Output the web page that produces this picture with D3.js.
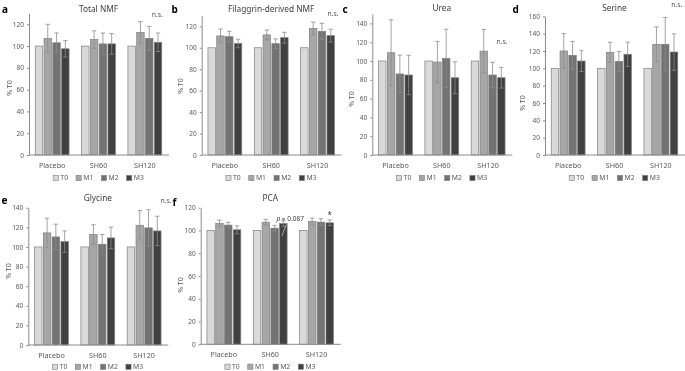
<!DOCTYPE html>
<html><head><meta charset="utf-8">
<script src="https://cdn.jsdelivr.net/npm/d3@7"></script>
<style>body{margin:0;background:#fff} svg{display:block;will-change:transform} text{font-family:"Noto Sans",sans-serif}</style>
</head><body><svg id="c" width="685" height="371"></svg>
<script>
const groups = ["Placebo","SH60","SH120"];
const series = ["T0","M1","M2","M3"];
const titles = ["Total NMF","Filaggrin-derived NMF","Urea","Serine","Glycine","PCA"];
const letters = ["a","b","c","d","e","f"];
const yMax = [130,130,150,160,140,120];
const yTicks = [[0,20,40,60,80,100,120],[0,20,40,60,80,100,120],[0,20,40,60,80,100,120,140],[0,20,40,60,80,100,120,140,160],[0,20,40,60,80,100,120,140],[0,20,40,60,80,100,120]];
const totalNMF = [[100,107,103,97.5],[100,106,102,102],[100,112.5,107,103.5]];
const totalNMFErr = [[0,13,9,7.5],[0,8,10,9.5],[0,10,11,8.5]];
const filaggrinNMF = [[100,111,110.3,104],[100,112,103.8,109.4],[100,118,115.3,111.3]];
const filaggrinNMFErr = [[0,6.5,5,4],[0,4.5,4.5,5],[0,6,7.5,6]];
const urea = [[100,108.8,86.2,85.1],[100,98.9,102.8,82.2],[100,110.5,85.1,82.2]];
const ureaErr = [[0,35,20,21],[0,22,31,17],[0,23,13.5,11]];
const serine = [[100,120,115,108.4],[100,118.5,108,116.2],[100,127.7,127.7,118.8]];
const serineErr = [[0,20,16,12],[0,11.5,11.5,14],[0,20,31,21]];
const glycine = [[100,114.3,110.2,105.4],[100,112.6,102.7,109.2],[100,122.1,119.4,116.3]];
const glycineErr = [[0,15,13,11],[0,10,10,11],[0,15,18.5,15]];
const pca = [[100,106.1,104.7,100.6],[100,107.3,102,106.1],[100,107.9,107.3,106.7]];
const pcaErr = [[0,3,2.5,3.5],[0,2.5,2.5,2.5],[0,3,3,2.5]];
const significance = ["n.s.","n.s.","n.s.","n.s.","n.s.",""];
const means = [totalNMF, filaggrinNMF, urea, serine, glycine, pca];
const errs = [totalNMFErr, filaggrinNMFErr, ureaErr, serineErr, glycineErr, pcaErr];

const fills = ["#d9d9d9","#a6a6a6","#737373","#404040"];
const layout = [
 {left:29, top:13.4, bottom:155, w:139, ns:[157.3,14.3], lab:[10,88], let:[2,9], ty:9, leg:23},
 {left:201.7, top:15.6, bottom:155, w:139, ns:[333,13.3], lab:[181,86], let:[171.5,9], ty:9, leg:23},
 {left:372.3, top:14, bottom:155, w:139, ns:[502,42], lab:[351.5,99], let:[342.5,9], ty:8.5, leg:23},
 {left:545, top:16.3, bottom:155, w:139, ns:[676.7,5], lab:[522.5,103], let:[512.5,9], ty:8.5, leg:23},
 {left:28.3, top:207.7, bottom:345, w:139, ns:[166,200.7], lab:[9,271], let:[1.5,200], ty:198.5, leg:21.8},
 {left:200.7, top:207.7, bottom:344.3, w:139, ns:null, lab:[181,285], let:[172.5,202], ty:198.5, leg:22.4}
];
const svg = d3.select("#c");

layout.forEach((L, i) => {
  const g = svg.append("g");
  const x0 = d3.scaleBand().domain(groups).range([L.left, L.left + L.w]).paddingInner(0.27).paddingOuter(0.135);
  const x1 = d3.scaleBand().domain(series).range([0, x0.bandwidth()]).paddingInner(0.15);
  const y = d3.scaleLinear().domain([0, yMax[i]]).range([L.bottom, L.top]);

  groups.forEach((grp, gi) => {
    series.forEach((s, si) => {
      const v = means[i][gi][si];
      const bx = x0(grp) + x1(s);
      g.append("rect").attr("x", bx).attr("y", y(v)).attr("width", x1.bandwidth()).attr("height", y(0) - y(v))
        .attr("fill", fills[si]).attr("stroke", "#7f7f7f").attr("stroke-width", 0.7);
      const e = errs[i][gi][si];
      if (e > 0) {
        const cx = bx + x1.bandwidth() / 2;
        const eg = g.append("g").attr("stroke", "#8c8c8c").attr("stroke-width", 0.8);
        eg.append("line").attr("x1", cx).attr("x2", cx).attr("y1", y(v - e)).attr("y2", y(v + e));
        eg.append("line").attr("x1", cx - 2.2).attr("x2", cx + 2.2).attr("y1", y(v + e)).attr("y2", y(v + e));
        eg.append("line").attr("x1", cx - 2.2).attr("x2", cx + 2.2).attr("y1", y(v - e)).attr("y2", y(v - e));
      }
    });
  });

  const ya = g.append("g").attr("transform", `translate(${L.left},0)`)
    .call(d3.axisLeft(y).tickValues(yTicks[i]).tickSize(2).tickSizeOuter(0).tickPadding(3));
  ya.select(".domain").attr("stroke", "#8c8c8c");
  ya.selectAll(".tick line").attr("stroke", "#8c8c8c");
  ya.selectAll("text").attr("fill", "#595959").style("font-size", "6.5px");
  const xa = g.append("g").attr("transform", `translate(0,${L.bottom})`)
    .call(d3.axisBottom(x0).tickSize(0).tickSizeOuter(0).tickPadding(0));
  xa.select(".domain").attr("stroke", "#8c8c8c").attr("d", `M${L.left},0H${L.left + L.w + 1}`);
  xa.selectAll("text").attr("fill", "#595959").style("font-size", "7.2px").attr("dy", null).attr("y", 13.1);

  g.append("text").attr("transform", `translate(${L.lab[0]},${L.lab[1]}) rotate(-90)`).attr("text-anchor", "middle")
    .attr("dy", "0.35em").style("font-size", "7px").attr("fill", "#595959").text("% T0");
  g.append("text").attr("x", L.left + L.w / 2).attr("y", L.ty).attr("dy", "0.35em").attr("text-anchor", "middle")
    .style("font-size", "8.3px").attr("fill", "#404040").text(titles[i]);
  g.append("text").attr("x", L.let[0]).attr("y", L.let[1]).attr("dy", "0.35em").style("font-size", "10px")
    .style("font-weight", "bold").attr("fill", "#000").text(letters[i]);
  if (L.ns && significance[i]) {
    g.append("text").attr("x", L.ns[0]).attr("y", L.ns[1]).attr("dy", "0.35em").attr("text-anchor", "middle")
      .style("font-size", "6.8px").attr("fill", "#595959").text(significance[i]);
  }
  const leg = g.append("g");
  let cx = 0;
  series.forEach((s, si) => {
    const it = leg.append("g").attr("transform", `translate(${cx},0)`);
    it.append("rect").attr("x", 0).attr("y", -2.6).attr("width", 5.2).attr("height", 5.2).attr("fill", fills[si])
      .attr("stroke", "#7f7f7f").attr("stroke-width", 0.6);
    const t = it.append("text").attr("x", 7.2).attr("y", 0).attr("dy", "0.35em").style("font-size", "6.8px")
      .attr("fill", "#595959").text(s);
    cx += 7.2 + t.node().getComputedTextLength() + 8;
  });
  const lw = cx - 8;
  leg.attr("transform", `translate(${L.left + L.w / 2 - lw / 2},${L.bottom + L.leg})`);

  if (i === 5) {
    const gx = x0("SH60") + x1("M3") + x1.bandwidth() / 2;
    const gy = y(pca[1][3]);
    g.append("line").attr("x1", gx + 3).attr("y1", gy + 1).attr("x2", gx - 1.5).attr("y2", gy + 12.3)
      .attr("stroke", "#bfbfbf").attr("stroke-width", 0.8);
    const t = g.append("text").attr("x", gx - 7).attr("y", gy - 3).style("font-size", "6.5px").attr("fill", "#404040");
    t.append("tspan").style("font-style", "italic").text("p");
    t.append("tspan").text(" = 0.087");
    const sx = x0("SH120") + x1("M3") + x1.bandwidth() / 2;
    g.append("text").attr("x", sx).attr("y", y(pca[2][3] + pcaErr[2][3]) - 2).attr("text-anchor", "middle")
      .style("font-size", "8px").attr("fill", "#404040").text("*");
  }
});
</script></body></html>
